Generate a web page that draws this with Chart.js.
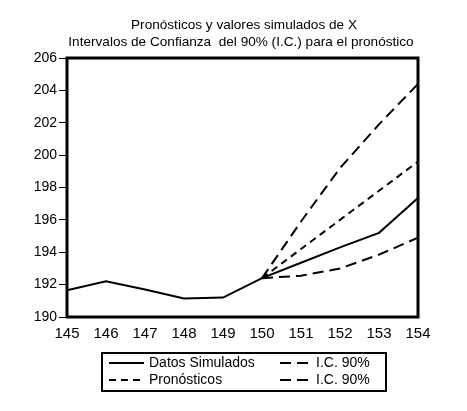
<!DOCTYPE html>
<html>
<head>
<meta charset="utf-8">
<title>Pronósticos y valores simulados de X</title>
<script src="https://cdn.jsdelivr.net/npm/chart.js@4"></script>
<style>
  html, body { margin: 0; padding: 0; background: #fff; }
  #wrap { width: 467px; height: 411px; }
</style>
</head>
<body>
<div id="wrap"><canvas id="chart" width="467" height="411"></canvas></div>
<script>
// periodos (eje X)
const periodos = ['145', '146', '147', '148', '149', '150', '151', '152', '153', '154'];

// series
const datosSimulados = [191.65, 192.2, 191.7, 191.15, 191.2, 192.4, 193.35, 194.3, 195.2, 197.35];
const pronosticos    = [null, null, null, null, null, 192.4, 194.2, 196.0, 197.8, 199.6];
const icSuperior     = [null, null, null, null, null, 192.4, 195.9, 199.2, 201.9, 204.4];
const icInferior     = [null, null, null, null, null, 192.4, 192.55, 193.0, 193.85, 194.9];

// eje Y
const yMin = 190, yMax = 206, yPaso = 2;

const tituloLineas = [
  'Pronósticos y valores simulados de X',
  'Intervalos de Confianza  del 90% (I.C.) para el pronóstico'
];

const FUENTE = "'Liberation Sans', Arial, sans-serif";

// título de dos líneas centrado sobre la figura
const tituloPlugin = {
  id: 'titulo',
  afterDraw(chart) {
    const ctx = chart.ctx;
    ctx.save();
    ctx.fillStyle = '#000';
    ctx.font = '13.6px ' + FUENTE;
    ctx.textAlign = 'center';
    ctx.textBaseline = 'alphabetic';
    ctx.fillText(tituloLineas[0], 244, 29);
    ctx.fillText(tituloLineas[1], 241, 46);
    ctx.restore();
  }
};

// marco grueso alrededor del área del gráfico
const marcoPlugin = {
  id: 'marco',
  afterDatasetsDraw(chart) {
    const a = chart.chartArea, ctx = chart.ctx;
    ctx.save();
    ctx.strokeStyle = '#000';
    ctx.lineWidth = 3;
    ctx.strokeRect(a.left, a.top, a.right - a.left, a.bottom - a.top);
    ctx.restore();
  }
};

// leyenda en dos columnas dentro de un recuadro
const leyendaPlugin = {
  id: 'leyendaCaja',
  afterDraw(chart) {
    const ctx = chart.ctx;
    const caja = { x: 102, y: 353, w: 284, h: 38 };
    const ds = chart.data.datasets;
    const celdas = [
      { i: 0, x: 109, y: 363 },
      { i: 2, x: 109, y: 380 },
      { i: 1, x: 280, y: 363 },
      { i: 3, x: 280, y: 380 }
    ];
    ctx.save();
    ctx.strokeStyle = '#000';
    ctx.lineWidth = 2;
    ctx.strokeRect(caja.x, caja.y, caja.w, caja.h);
    ctx.font = '14px ' + FUENTE;
    ctx.fillStyle = '#000';
    ctx.textBaseline = 'middle';
    celdas.forEach(function (c) {
      const d = ds[c.i];
      const largo = c.i === 0 || c.i === 2 ? 35 : 31;
      ctx.beginPath();
      ctx.setLineDash(d.borderDash || []);
      ctx.lineWidth = d.borderWidth;
      ctx.moveTo(c.x, c.y);
      ctx.lineTo(c.x + largo, c.y);
      ctx.stroke();
      ctx.setLineDash([]);
      ctx.fillText(d.label, c.x + largo + 5, c.y);
    });
    ctx.restore();
  }
};

function serie(label, data, dash) {
  return {
    label: label,
    data: data,
    borderColor: '#000',
    backgroundColor: '#000',
    borderWidth: 2,
    borderDash: dash,
    pointRadius: 0,
    tension: 0,
    fill: false,
    spanGaps: false
  };
}

new Chart(document.getElementById('chart'), {
  type: 'line',
  data: {
    labels: periodos,
    datasets: [
      serie('Datos Simulados', datosSimulados, []),
      serie('I.C. 90%', icSuperior, [11, 6]),
      serie('Pronósticos', pronosticos, [7, 5]),
      serie('I.C. 90%', icInferior, [11, 6])
    ]
  },
  options: {
    responsive: false,
    animation: false,
    layout: { padding: { left: 0, right: 49, top: 58, bottom: 66 } },
    plugins: {
      legend: { display: false },
      tooltip: { enabled: false },
      title: { display: false }
    },
    scales: {
      x: {
        offset: false,
        border: { display: false },
        grid: { display: false, drawTicks: false },
        ticks: {
          color: '#000',
          padding: 8,
          maxRotation: 0,
          autoSkip: false,
          font: { family: FUENTE, size: 15 }
        },
        afterFit: function (s) { s.height = 28; }
      },
      y: {
        min: yMin,
        max: yMax,
        border: { display: false },
        grid: { drawOnChartArea: false, drawTicks: true, tickLength: 8, color: '#000' },
        ticks: {
          stepSize: yPaso,
          color: '#000',
          padding: 2,
          font: { family: FUENTE, size: 14 }
        },
        afterFit: function (s) { s.width = 67; }
      }
    }
  },
  plugins: [marcoPlugin, leyendaPlugin, tituloPlugin]
});
</script>
</body>
</html>
